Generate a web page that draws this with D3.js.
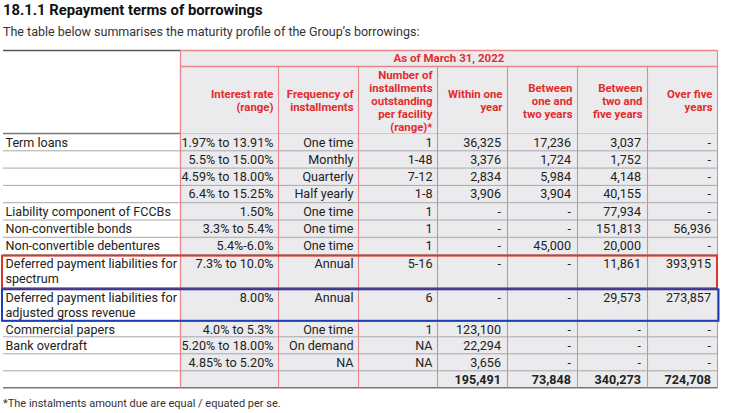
<!DOCTYPE html>
<html>
<head>
<meta charset="utf-8">
<script src="https://cdn.jsdelivr.net/npm/d3@7"></script>
<style>
  body { margin: 0; background: #fff; }
  text { font-family: Roboto, "Open Sans", sans-serif; }
</style>
</head>
<body>
<svg id="chart" width="730" height="413"></svg>
<script>
// data
const categories = [
  ["Term loans"], [""], [""], [""],
  ["Liability component of FCCBs"],
  ["Non-convertible bonds"],
  ["Non-convertible debentures"],
  ["Deferred payment liabilities for", "spectrum"],
  ["Deferred payment liabilities for", "adjusted gross revenue"],
  ["Commercial papers"],
  ["Bank overdraft"], [""]
];
const interestRates = ["1.97% to 13.91%", "5.5% to 15.00%", "4.59% to 18.00%", "6.4% to 15.25%", "1.50%", "3.3% to 5.4%", "5.4%-6.0%", "7.3% to 10.0%", "8.00%", "4.0% to 5.3%", "5.20% to 18.00%", "4.85% to 5.20%"];
const frequencies = ["One time", "Monthly", "Quarterly", "Half yearly", "One time", "One time", "One time", "Annual", "Annual", "One time", "On demand", "NA"];
const installments = ["1", "1-48", "7-12", "1-8", "1", "1", "1", "5-16", "6", "1", "NA", "NA"];
const withinOneYear = [36325, 3376, 2834, 3906, null, null, null, null, null, 123100, 22294, 3656];
const oneToTwoYears = [17236, 1724, 5984, 3904, null, null, 45000, null, null, null, null, null];
const twoToFiveYears = [3037, 1752, 4148, 40155, 77934, 151813, 20000, 11861, 29573, null, null, null];
const overFiveYears = [null, null, null, null, null, 56936, null, 393915, 273857, null, null, null];

const headers = [
  ["Interest rate", "(range)"],
  ["Frequency of", "installments"],
  ["Number of", "installments", "outstanding", "per facility", "(range)*"],
  ["Within one", "year"],
  ["Between", "one and", "two years"],
  ["Between", "two and", "five years"],
  ["Over five", "years"]
];
const periodLabel = "As of March 31, 2022";
const title = "18.1.1 Repayment terms of borrowings";
const subtitle = "The table below summarises the maturity profile of the Group\u2019s borrowings:";
const footnote = "*The instalments amount due are equal / equated per se.";

// layout
const left = 3, firstColRight = 180.5;
const colRight = [278.5, 358.5, 437.5, 507.5, 577.5, 647.5, 717.5];
const rowHeights = [17.3, 17.3, 17.3, 17.3, 17.3, 17.3, 17.3, 34.2, 32.5, 15.5, 17, 17, 17];
const headTop = 50.5, bandBottom = 66.5, headBottom = 133.5;
const red = "#e32b2b", pink = "#e8868a", grey = "#ebebee";

const fmt = d3.format(",");
const cell = v => v == null ? "-" : fmt(v);

const rowTops = d3.cumsum([0].concat(rowHeights));
const y = d3.scaleLinear().domain([0, 1]).range([headBottom, headBottom + 1]);
const rowY = i => y(rowTops[i]);
const x = d3.scaleOrdinal().domain(d3.range(colRight.length)).range(colRight);

const body = categories.map((c, i) => ({
  label: c,
  cells: [interestRates[i], frequencies[i], installments[i],
    cell(withinOneYear[i]), cell(oneToTwoYears[i]), cell(twoToFiveYears[i]), cell(overFiveYears[i])],
  bold: false
}));
body.push({
  label: [""],
  cells: ["", "", "", fmt(d3.sum(withinOneYear)), fmt(d3.sum(oneToTwoYears)),
    fmt(d3.sum(twoToFiveYears)), fmt(d3.sum(overFiveYears))],
  bold: true
});

const svg = d3.select("#chart");
const tableBottom = rowY(body.length);

svg.append("text").attr("x", left).attr("y", 15)
  .attr("font-size", 14.8).attr("font-weight", 700).attr("fill", "#111").text(title);
svg.append("text").attr("x", left).attr("y", 35.5)
  .attr("font-size", 12.5).attr("fill", "#333").text(subtitle);

// grey fill of the data columns
svg.append("rect").attr("x", firstColRight).attr("y", headTop)
  .attr("width", x(colRight.length - 1) - firstColRight).attr("height", tableBottom - headTop)
  .attr("fill", grey);

// horizontal row lines
svg.selectAll("line.row").data(d3.range(1, body.length)).enter().append("line")
  .attr("x1", left).attr("x2", x(colRight.length - 1))
  .attr("y1", d => rowY(d)).attr("y2", d => rowY(d))
  .attr("stroke", "#a9a9ad").attr("stroke-width", 1);

// header and bottom rules
svg.append("line").attr("x1", left).attr("x2", firstColRight).attr("y1", headTop).attr("y2", headTop)
  .attr("stroke", "#555").attr("stroke-width", 1.5);
svg.append("line").attr("x1", left).attr("x2", firstColRight).attr("y1", headBottom).attr("y2", headBottom)
  .attr("stroke", "#777").attr("stroke-width", 1.5);
svg.append("line").attr("x1", firstColRight).attr("x2", x(colRight.length - 1)).attr("y1", headBottom).attr("y2", headBottom)
  .attr("stroke", "#c9c9cc").attr("stroke-width", 1);
svg.append("line").attr("x1", left).attr("x2", x(colRight.length - 1)).attr("y1", tableBottom).attr("y2", tableBottom)
  .attr("stroke", "#777").attr("stroke-width", 1.5);

// header red borders
svg.append("line").attr("x1", firstColRight).attr("x2", x(colRight.length - 1)).attr("y1", headTop).attr("y2", headTop)
  .attr("stroke", pink).attr("stroke-width", 1.5);
svg.append("line").attr("x1", firstColRight).attr("x2", x(colRight.length - 1)).attr("y1", bandBottom).attr("y2", bandBottom)
  .attr("stroke", pink).attr("stroke-width", 1.5);

// vertical lines
svg.append("line").attr("x1", firstColRight).attr("x2", firstColRight).attr("y1", headTop).attr("y2", tableBottom)
  .attr("stroke", pink).attr("stroke-width", 1.3);
svg.selectAll("line.col").data(colRight).enter().append("line")
  .attr("x1", d => d).attr("x2", d => d)
  .attr("y1", (d, i) => i === colRight.length - 1 ? headTop : bandBottom).attr("y2", tableBottom)
  .attr("stroke", pink).attr("stroke-width", 1.1);

// header texts
svg.append("text").attr("x", (firstColRight + x(colRight.length - 1)) / 2).attr("y", 62)
  .attr("text-anchor", "middle").attr("font-size", 11.5).attr("font-weight", 700)
  .attr("fill", red).text(periodLabel);

const hg = svg.selectAll("g.head").data(headers).enter().append("text")
  .attr("text-anchor", "end").attr("font-size", 11.4).attr("font-weight", 700).attr("fill", red);
hg.selectAll("tspan").data((d, i) => d.map((t, k) => ({ t, k, n: d.length, i }))).enter().append("tspan")
  .attr("x", d => x(d.i) - 5)
  .attr("y", d => 104.5 + (d.k - (d.n - 1) / 2) * 13)
  .text(d => d.t);

// body rows
const rows = svg.selectAll("g.bodyrow").data(body).enter().append("g")
  .attr("transform", (d, i) => `translate(0,${rowY(i)})`);

rows.append("text").attr("x", left + 2.5).attr("font-size", 12.6).attr("fill", "#222")
  .selectAll("tspan").data(d => d.label).enter().append("tspan")
  .attr("x", left + 2.5).attr("y", (d, k) => 13 + k * 15).text(d => d);

rows.selectAll("text.val").data(d => d.cells.map((c, j) => ({ c, j, bold: d.bold }))).enter().append("text")
  .attr("x", d => x(d.j) - (d.j < 3 ? 5 : 6.5))
  .attr("y", 13)
  .attr("text-anchor", "end").attr("font-size", 12.6)
  .attr("font-weight", d => d.bold ? 700 : 400)
  .attr("fill", "#222").text(d => d.c);

// highlight boxes
svg.append("rect").attr("x", left - 1).attr("y", rowY(7) + 1).attr("width", 718 - left)
  .attr("height", rowHeights[7] - 1.5).attr("fill", "none").attr("stroke", "#d63a2b").attr("stroke-width", 2);
svg.append("rect").attr("x", left - 1).attr("y", rowY(8) + 0.5).attr("width", 719.5 - left)
  .attr("height", rowHeights[8] - 1).attr("fill", "none").attr("stroke", "#1d3fb5").attr("stroke-width", 2);

svg.append("text").attr("x", left).attr("y", 407).attr("font-size", 11).attr("fill", "#333").text(footnote);
</script>
</body>
</html>
